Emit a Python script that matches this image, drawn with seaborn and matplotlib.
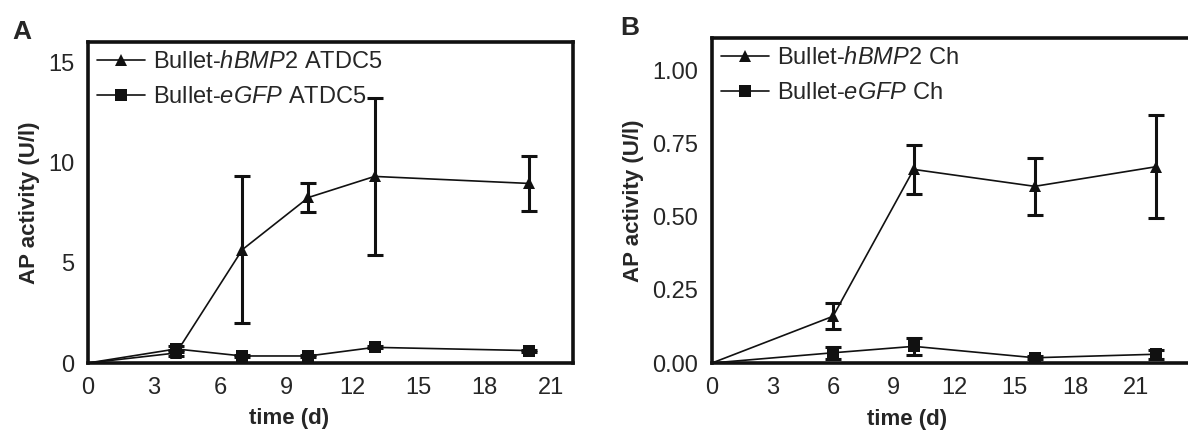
import numpy as np
import pandas as pd
import matplotlib
matplotlib.use("Agg")
import matplotlib.pyplot as plt
import seaborn as sns

# ---- data: panel A (ATDC5) ----
days_a = [0, 4, 7, 10, 13, 20]
bmp2_a = [0.0, 0.5, 5.65, 8.25, 9.3, 8.95]
bmp2_a_err = [0.0, 0.15, 3.68, 0.7, 3.9, 1.38]
egfp_a = [0.0, 0.7, 0.35, 0.35, 0.78, 0.62]
egfp_a_err = [0.0, 0.15, 0.05, 0.05, 0.05, 0.05]

# ---- data: panel B (Ch) ----
days_b = [0, 6, 10, 16, 22]
bmp2_b = [0.0, 0.16, 0.663, 0.605, 0.672]
bmp2_b_err = [0.0, 0.044, 0.084, 0.097, 0.177]
egfp_b = [0.0, 0.035, 0.057, 0.018, 0.03]
egfp_b_err = [0.0, 0.02, 0.03, 0.005, 0.015]

labels_a = [r"Bullet-$\mathit{hBMP2}$ ATDC5", r"Bullet-$\mathit{eGFP}$ ATDC5"]
labels_b = [r"Bullet-$\mathit{hBMP2}$ Ch", r"Bullet-$\mathit{eGFP}$ Ch"]
xticks = [0, 3, 6, 9, 12, 15, 18, 21]
yticks_a = [0, 5, 10, 15]
yticks_b = [0.00, 0.25, 0.50, 0.75, 1.00]

sns.set_style("white")
plt.rcParams["font.family"] = ["Liberation Sans", "DejaVu Sans"]
plt.rcParams["mathtext.fontset"] = "custom"
plt.rcParams["mathtext.rm"] = "Liberation Sans"
plt.rcParams["mathtext.it"] = "Liberation Sans:italic"

fig = plt.figure(figsize=(11.88, 4.37), dpi=100)
axA = fig.add_axes([88/1188, 74/437, 485/1188, 321/437])
axB = fig.add_axes([712/1188, 74/437, 476/1188, 325/437])


def panel(ax, days, s1, e1, s2, e2, labels, xlim, ylim, yticks, yfmt, xlab_pos):
    df = pd.DataFrame({
        "day": list(days) * 2,
        "val": list(s1) + list(s2),
        "grp": [labels[0]] * len(days) + [labels[1]] * len(days),
    })
    sns.lineplot(data=df, x="day", y="val", hue="grp", style="grp",
                 markers={labels[0]: "^", labels[1]: "s"}, dashes=False,
                 palette={labels[0]: "#111111", labels[1]: "#111111"},
                 markersize=8, linewidth=1.2, markeredgewidth=0,
                 ax=ax, clip_on=False, zorder=3)
    n = len(days)
    for ln in ax.lines:
        ln.set_markevery(list(range(1, n)))
    for s, e in ((s1, e1), (s2, e2)):
        ax.errorbar(days[1:], s[1:], yerr=e[1:], fmt="none", ecolor="#111111",
                    elinewidth=2.2, capsize=6, capthick=2.2, zorder=4, clip_on=False)
    ax.set_xlim(*xlim)
    ax.set_ylim(*ylim)
    ax.set_xticks(xticks)
    ax.set_yticks(yticks)
    ax.set_yticklabels([yfmt.format(v) for v in yticks])
    ax.tick_params(direction="out", length=7, width=2.6, labelsize=17,
                   color="#111111", pad=3)
    ax.set_xlabel("time (d)", fontsize=16, fontweight="bold")
    ax.xaxis.set_label_coords(xlab_pos, -0.14)
    ax.set_ylabel("AP activity (U/l)", fontsize=16, fontweight="bold", labelpad=6)
    for sp in ax.spines.values():
        sp.set_linewidth(2.6)
        sp.set_color("#111111")
    leg = ax.legend(loc="upper left", frameon=False, fontsize=17,
                    handlelength=2.0, handletextpad=0.35, borderaxespad=0.2,
                    labelspacing=0.55, borderpad=0.2)
    for h in leg.legend_handles:
        h.set_markevery([1])
        h.set_linewidth(1.2)


panel(axA, days_a, bmp2_a, bmp2_a_err, egfp_a, egfp_a_err, labels_a,
      (0, 22), (0, 16), yticks_a, "{:g}", 0.414)
panel(axB, days_b, bmp2_b, bmp2_b_err, egfp_b, egfp_b_err, labels_b,
      (0, 23.6), (0, 1.113), yticks_b, "{:.2f}", 0.41)
axB.spines["right"].set_visible(False)

fig.text(12/1188, 1 - 32/437, "A", fontsize=19, fontweight="bold", va="center")
fig.text(620/1188, 1 - 28/437, "B", fontsize=19, fontweight="bold", va="center")

fig.savefig("out.png", dpi=100)
